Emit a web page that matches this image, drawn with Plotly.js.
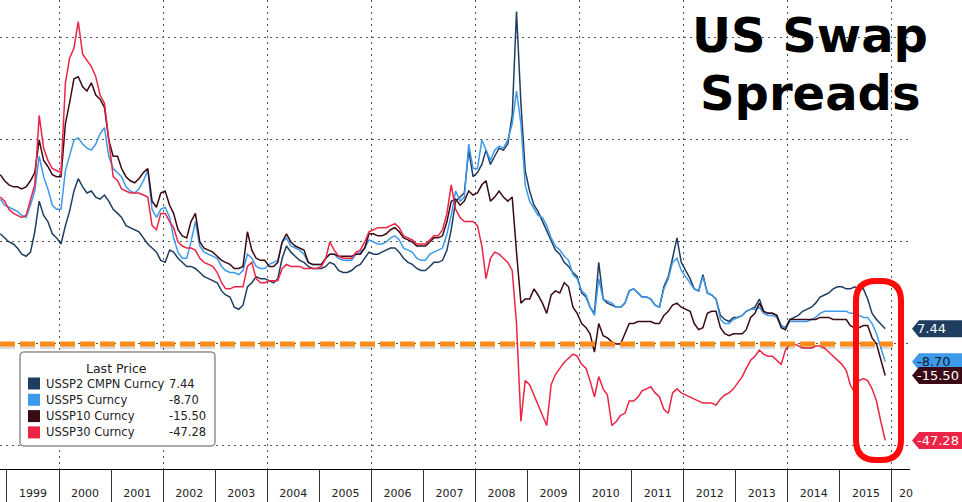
<!DOCTYPE html>
<html><head><meta charset="utf-8">
<script src="https://cdn.plot.ly/plotly-3.0.1.min.js"></script>
<style>html,body{margin:0;padding:0;background:#fff;}#chart{width:962px;height:502px;}</style>
</head><body><div id="chart"></div>
<script>
// ---- data (monthly readings, mid-month, starting Nov 1998) ----
const firstYear = 1998, firstMonth = 11;
const seriesNames = ['USSP2 CMPN Curncy', 'USSP5 Curncy', 'USSP10 Curncy', 'USSP30 Curncy'];
const lastPrices = [7.44, -8.70, -15.50, -47.28];
const lastPriceLabels = ['7.44', '-8.70', '-15.50', '-47.28'];
const seriesColors = ['#1E3D60', '#3D99EA', '#3A0B14', '#EC2446'];
const tagTextColors = ['#ffffff', '#0b1a2e', '#ffffff', '#ffffff'];
const refLevel = 0;
const titleLines = ['US Swap', 'Spreads'];
const legendTitle = 'Last Price';

const ussp2 = [54, 52,
  50, 49, 47, 44, 43, 45, 55, 70, 63, 60, 54, 52,
  49, 58, 65, 75, 81, 77, 74, 75, 72, 71, 73, 70,
  66, 64, 62, 58, 57, 56, 55, 52, 49, 47, 45, 41,
  40, 46, 45, 42, 40, 38, 38, 37, 35, 33, 32, 31,
  30, 26, 24, 23, 18, 17, 19, 28, 30, 33, 32, 32,
  31, 30, 32, 42, 48, 45, 43, 41, 40, 38, 37, 37,
  37, 38, 40, 39, 36, 35, 35, 36, 38, 39, 42, 45,
  44, 44, 45, 46, 47, 47, 45, 42, 40, 39, 37, 36,
  36, 38, 40, 40, 41, 46, 56, 70, 72, 74, 95, 82,
  84, 88, 95, 88, 92, 96, 95, 98, 112, 163, 118, 85,
  75, 68, 65, 60, 55, 50, 46, 44, 40, 38, 35, 33,
  25, 23, 18, 15, 40, 22, 20, 19, 18, 18, 20, 26,
  27, 25, 23, 23, 22, 19, 18, 28, 33, 42, 52, 40,
  36, 32, 27, 26, 34, 25, 24, 22, 14, 12, 11, 13,
  13, 14, 16, 17, 18, 22, 16, 15, 15, 14, 9, 8,
  12, 13, 14, 16, 17, 18, 20, 23, 24, 25, 27, 28,
  28, 27, 27, 28, 27, 27, 22, 15, 12, 10, 7.44];

const ussp5 = [71, 68,
  67, 66, 65, 63, 62, 68, 75, 92, 82, 76, 68, 66,
  66, 85, 92, 100, 101, 98, 96, 95, 98, 103, 106, 92,
  86, 84, 82, 77, 75, 74, 76, 80, 85, 66, 62, 66,
  67, 62, 52, 45, 42, 42, 50, 60, 48, 45, 44, 43,
  42, 38, 36, 35, 35, 34, 36, 44, 42, 38, 37, 37,
  39, 40, 41, 50, 52, 48, 47, 46, 44, 40, 39, 39,
  39, 42, 44, 44, 42, 41, 41, 41, 44, 45, 47, 51,
  50, 49, 49, 50, 52, 53, 51, 47, 46, 45, 42, 41,
  41, 44, 45, 46, 47, 54, 63, 75, 70, 72, 98, 86,
  86, 100, 95, 90, 95, 97, 96, 100, 108, 124, 108, 78,
  70, 66, 63, 62, 58, 52, 48, 46, 43, 41, 34, 32,
  26, 24, 18, 14, 32, 22, 21, 20, 18, 18, 20, 26,
  27, 25, 23, 23, 22, 19, 18, 27, 32, 40, 42, 36,
  33, 30, 27, 26, 33, 25, 24, 22, 12, 10, 10, 12,
  13, 14, 16, 17, 17, 18, 15, 14, 14, 13, 9, 8,
  11, 11, 11, 11, 11, 12, 13, 15, 16, 16, 16, 16,
  16, 16, 15, 15, 14, 13, 13, 10, 5, -2, -8.70];

const ussp10 = [83, 80,
  78, 77, 77, 76, 77, 80, 84, 100, 90, 87, 83, 82,
  82, 108, 118, 130, 131, 126, 124, 128, 122, 120, 116, 100,
  92, 92, 86, 82, 80, 79, 81, 84, 86, 70, 67, 74,
  75, 68, 64, 56, 53, 52, 60, 64, 50, 47, 46, 45,
  43, 41, 40, 39, 37, 37, 38, 55, 46, 42, 41, 41,
  38, 38, 40, 50, 54, 50, 48, 47, 46, 40, 39, 39,
  39, 42, 44, 44, 43, 43, 43, 43, 44, 44, 47, 54,
  54, 53, 53, 54, 56, 57, 55, 52, 51, 50, 48, 48,
  48, 50, 52, 52, 53, 60, 70, 71, 68, 70, 75, 73,
  74, 78, 80, 70, 72, 75, 72, 70, 72, 45, 20, 22,
  22, 27, 24, 20, 15, 24, 26, 25, 30, 28, 18, 15,
  10, 8, 5, -4, 10, 4, 3, 1, 0, 0, 5, 10,
  10, 11, 11, 11, 11, 10, 10, 14, 16, 19, 20, 18,
  17, 16, 10, 7, 8, 15, 16, 16, 8, 5, 4, 5,
  5, 5, 7, 13, 15, 20, 16, 15, 15, 14, 8, 7,
  12, 12, 12, 12, 12, 12, 12, 13, 13, 13, 12, 12,
  12, 12, 9, 8, 8, 9, 9, 3, 0, -7, -15.50];

const ussp30 = [72, 70,
  66, 64, 63, 62, 63, 70, 78, 112, 96, 90, 86, 85,
  84, 128, 140, 145, 158, 142, 139, 136, 131, 122, 118, 100,
  82, 80, 76, 75, 74, 74, 74, 73, 72, 58, 56, 64,
  64, 60, 57, 50, 48, 47, 47, 46, 42, 40, 39, 38,
  35, 30, 27, 27, 28, 28, 28, 38, 40, 32, 30, 30,
  31, 31, 31, 37, 39, 38, 38, 38, 37, 37, 37, 37,
  38, 42, 50, 46, 43, 42, 42, 42, 45, 46, 50, 55,
  56, 57, 57, 57, 58, 59, 57, 53, 52, 51, 49, 49,
  49, 51, 53, 53, 56, 64, 78, 66, 62, 60, 60, 60,
  58, 48, 32, 42, 45, 44, 42, 40, 36, 10, -38, -18,
  -20, -25, -30, -35, -40, -20, -15, -12, -9, -7, -5, -6,
  -10, -12, -18, -26, -16, -22, -25, -40, -38, -35, -34, -28,
  -28, -26, -23, -22, -21, -24, -26, -32, -34, -24, -22, -24,
  -25, -26, -27, -28, -29, -29, -29, -30, -27, -25, -24, -22,
  -19, -16, -12, -8, -6, -3, -5, -6, -6, -8, -10, -3,
  0, 0, -1, -2, -2, -2, -1, -1, -2, -4, -6, -8,
  -10, -13, -20, -24, -18, -17, -18, -22, -28, -38, -47.28];

const seriesValues = [ussp2, ussp5, ussp10, ussp30];

// ---- dates (month axis) ----
function monthDates(y, m, n) {
  const out = [];
  for (let i = 0; i < n; i++) {
    out.push(y + '-' + String(m).padStart(2, '0') + '-15');
    m++; if (m > 12) { m = 1; y++; }
  }
  return out;
}
const dates = monthDates(firstYear, firstMonth, ussp2.length);

// ---- geometry helpers (pixels inside plot area) ----
const PW = 910, PH = 469;
const PX = p => p / PW;
const PY = p => 1 - p / PH;
function roundRect(x0, y0, x1, y1, r) {
  const P = (x, y) => PX(x).toFixed(5) + ',' + PY(y).toFixed(5);
  return 'M' + P(x0 + r, y0) + ' L' + P(x1 - r, y0) + ' Q' + P(x1, y0) + ' ' + P(x1, y0 + r) +
    ' L' + P(x1, y1 - r) + ' Q' + P(x1, y1) + ' ' + P(x1 - r, y1) +
    ' L' + P(x0 + r, y1) + ' Q' + P(x0, y1) + ' ' + P(x0, y1 - r) +
    ' L' + P(x0, y0 + r) + ' Q' + P(x0, y0) + ' ' + P(x0 + r, y0) + ' Z';
}

const FONT = 'DejaVu Sans, Verdana, sans-serif';

const traces = seriesValues.map((vals, i) => ({
  x: dates, y: vals, type: 'scatter', mode: 'lines', name: seriesNames[i],
  line: {color: seriesColors[i], width: 1.5}, hoverinfo: 'skip'
}));
// carrier for the 2-year grid axis
traces.push({x: [dates[0]], y: [null], xaxis: 'x2', yaxis: 'y', mode: 'lines', hoverinfo: 'skip', showlegend: false});

const shapes = [];
const annotations = [];

// zero reference line with shadow
shapes.push({type: 'line', xref: 'paper', x0: 0, x1: PX(893), yref: 'y', ysizemode: 'pixel', yanchor: refLevel, y0: -3, y1: -3,
  line: {color: 'rgba(0,0,0,0.15)', width: 4, dash: '15px,5px'}, layer: 'above'});
shapes.push({type: 'line', xref: 'paper', x0: 0, x1: PX(893), yref: 'y', y0: refLevel, y1: refLevel,
  line: {color: '#FF8C1A', width: 5, dash: '15px,5px'}, layer: 'above'});

// red highlight
shapes.push({type: 'path', xref: 'paper', yref: 'paper', path: roundRect(856, 281, 901, 460, 20),
  line: {color: '#FF0A0A', width: 6}, fillcolor: 'rgba(0,0,0,0)', layer: 'above'});

// right-side last price tags
seriesValues.forEach((vals, i) => {
  shapes.push({type: 'path', xref: 'paper', xsizemode: 'pixel', xanchor: 1, yref: 'y', ysizemode: 'pixel', yanchor: lastPrices[i],
    path: 'M2,0 L9,8.5 L52,8.5 L52,-8.5 L9,-8.5 Z', fillcolor: seriesColors[i], line: {width: 0}, layer: 'above'});
  annotations.push({xref: 'paper', x: 1, xanchor: 'left', xshift: 5, yref: 'y', y: lastPrices[i], yanchor: 'middle',
    text: lastPriceLabels[i], showarrow: false, font: {family: FONT, size: 13, color: tagTextColors[i]}});
});

// legend box
shapes.push({type: 'path', xref: 'paper', yref: 'paper', path: roundRect(20, 352, 215, 446, 4),
  fillcolor: '#ffffff', line: {color: '#555', width: 1}, layer: 'above'});
annotations.push({xref: 'paper', yref: 'paper', x: PX(117), y: PY(368), xanchor: 'center', yanchor: 'middle',
  text: legendTitle, showarrow: false, font: {family: FONT, size: 12.5, color: '#222'}});
seriesNames.forEach((nm, i) => {
  const cy = 383.5 + i * 16.3;
  shapes.push({type: 'rect', xref: 'paper', yref: 'paper', x0: PX(28), x1: PX(40), y0: PY(cy - 6), y1: PY(cy + 6),
    fillcolor: seriesColors[i], line: {width: 0}, layer: 'above'});
  annotations.push({xref: 'paper', yref: 'paper', x: PX(44), y: PY(cy), xanchor: 'left', yanchor: 'middle',
    text: nm, showarrow: false, font: {family: FONT, size: 11.5, color: '#222'}});
  annotations.push({xref: 'paper', yref: 'paper', x: PX(167), y: PY(cy), xanchor: 'left', yanchor: 'middle',
    text: lastPriceLabels[i], showarrow: false, font: {family: FONT, size: 11.5, color: '#222'}});
});

// title
annotations.push({xref: 'paper', yref: 'paper', x: PX(810), y: PY(35), xanchor: 'center', yanchor: 'middle',
  text: '<b>' + titleLines[0] + '</b>', showarrow: false, font: {family: FONT, size: 48, color: '#000'}});
annotations.push({xref: 'paper', yref: 'paper', x: PX(810), y: PY(93), xanchor: 'center', yanchor: 'middle',
  text: '<b>' + titleLines[1] + '</b>', showarrow: false, font: {family: FONT, size: 48, color: '#000'}});

// clipped 2016 label
annotations.push({xref: 'x', x: '2016-01-01', xanchor: 'left', xshift: 5, yref: 'paper', y: PY(493), yanchor: 'middle',
  text: '20', showarrow: false, font: {family: FONT, size: 11, color: '#222'}});

const xRange = ['1998-11-13', '2016-05-07'];
const layout = {
  width: 962, height: 502,
  margin: {l: 0, r: 52, t: 0, b: 33, pad: 0},
  paper_bgcolor: '#ffffff', plot_bgcolor: '#ffffff',
  showlegend: false,
  xaxis: {
    type: 'date', range: xRange, showgrid: false, zeroline: false,
    showline: true, linecolor: '#000', linewidth: 1,
    ticks: 'outside', ticklen: 33, tickwidth: 1, tickcolor: '#333',
    dtick: 'M12', tick0: '1999-01-01', ticklabelmode: 'period', tickformat: '%Y',
    ticklabelstandoff: -19,
    tickfont: {family: FONT, size: 11, color: '#222'}
  },
  xaxis2: {
    type: 'date', range: xRange, overlaying: 'x', anchor: 'y', side: 'bottom',
    showgrid: true, gridcolor: '#555', gridwidth: 1, griddash: '2px,4px',
    dtick: 'M24', tick0: '2000-01-01', showticklabels: false, ticks: '', showline: false, zeroline: false
  },
  yaxis: {
    range: [-61.3, 168.6], showgrid: true, gridcolor: '#555', gridwidth: 1, griddash: '2px,4px',
    dtick: 50, tick0: 0, showticklabels: false, ticks: '', zeroline: false, showline: false
  },
  shapes: shapes,
  annotations: annotations
};

Plotly.newPlot('chart', traces, layout, {staticPlot: true, displayModeBar: false});
</script>
</body></html>
